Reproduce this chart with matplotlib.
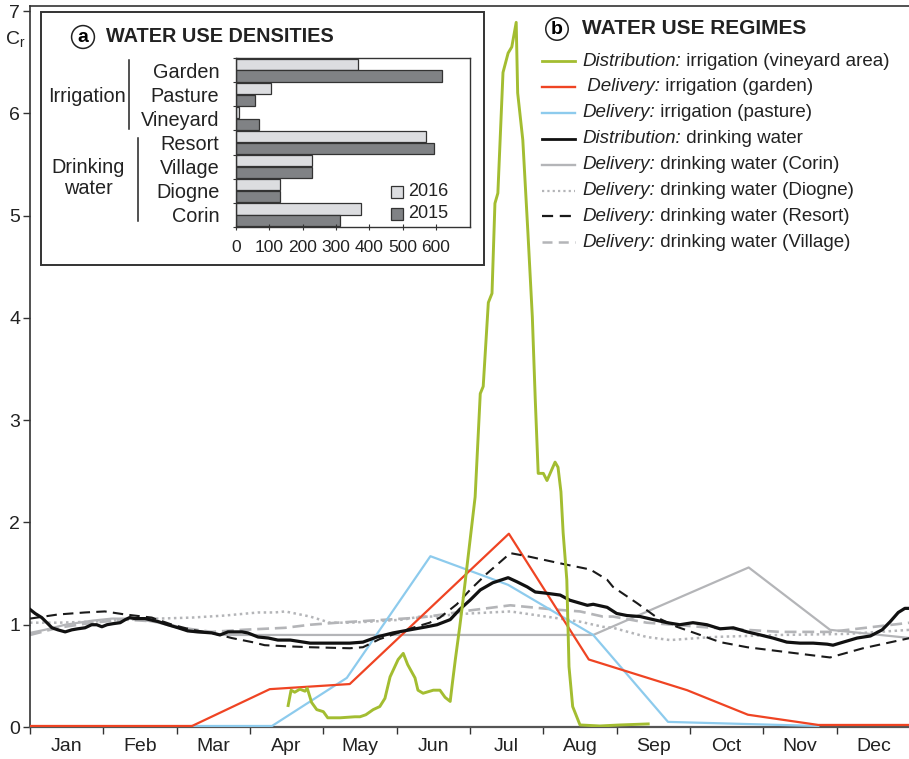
import numpy as np
import matplotlib.pyplot as plt
from matplotlib.lines import Line2D
from matplotlib.patches import Rectangle

plt.rcParams['font.family'] = ['Liberation Sans', 'DejaVu Sans']
plt.rcParams['mathtext.fontset'] = 'custom'
plt.rcParams['mathtext.rm'] = 'Liberation Sans'

months = ['Jan', 'Feb', 'Mar', 'Apr', 'May', 'Jun',
          'Jul', 'Aug', 'Sep', 'Oct', 'Nov', 'Dec']

# ---- (b) water use regimes, x in months since 1 Jan, y = Cr ----
vine_x = [3.52, 3.56, 3.61, 3.68, 3.75, 3.78, 3.84, 3.91, 4.00, 4.06, 4.13, 4.23,
          4.43, 4.50, 4.58, 4.68, 4.77, 4.84, 4.91, 5.02, 5.09, 5.15, 5.25, 5.29,
          5.36, 5.50, 5.59, 5.66, 5.73, 5.76, 5.80, 5.86, 5.90, 6.07, 6.14, 6.18,
          6.25, 6.30, 6.34, 6.38, 6.45, 6.52, 6.57, 6.63, 6.65, 6.72, 6.79, 6.85,
          6.89, 6.93, 7.00, 7.05, 7.16, 7.20, 7.24, 7.27, 7.32, 7.35, 7.40, 7.50,
          7.77, 8.05, 8.43]
vine_y = [0.21, 0.36, 0.34, 0.37, 0.35, 0.38, 0.24, 0.17, 0.15, 0.09, 0.09, 0.09,
          0.10, 0.10, 0.12, 0.17, 0.20, 0.28, 0.49, 0.66, 0.72, 0.61, 0.48, 0.36,
          0.33, 0.36, 0.36, 0.29, 0.25, 0.43, 0.66, 0.98, 1.21, 2.25, 3.26, 3.33,
          4.15, 4.24, 5.12, 5.22, 6.40, 6.59, 6.65, 6.89, 6.20, 5.74, 4.83, 4.01,
          3.20, 2.48, 2.48, 2.41, 2.59, 2.54, 2.30, 1.90, 1.44, 0.59, 0.20, 0.02,
          0.01, 0.02, 0.03]

garden_x = [0, 2.21, 3.27, 4.36, 6.53, 7.62, 8.96, 9.79, 10.75, 12.0]
garden_y = [0.01, 0.01, 0.37, 0.42, 1.89, 0.66, 0.36, 0.12, 0.02, 0.02]

pasture_x = [2.21, 3.30, 4.32, 5.46, 6.52, 7.68, 8.70, 10.75]
pasture_y = [0.01, 0.01, 0.48, 1.67, 1.39, 0.90, 0.05, 0.01]

drink_x = [0, 0.07, 0.16, 0.23, 0.30, 0.38, 0.48, 0.57, 0.65, 0.75, 0.84, 0.91,
           0.98, 1.05, 1.13, 1.23, 1.30, 1.36, 1.43, 1.57, 1.75, 1.88, 2.02, 2.15,
           2.29, 2.48, 2.59, 2.70, 2.89, 2.97, 3.11, 3.25, 3.38, 3.55, 3.82, 4.09,
           4.36, 4.54, 4.73, 4.95, 5.18, 5.41, 5.55, 5.73, 5.86, 6.00, 6.14, 6.31,
           6.52, 6.64, 6.78, 6.89, 7.02, 7.23, 7.36, 7.60, 7.68, 7.87, 8.00, 8.14,
           8.32, 8.50, 8.69, 8.86, 9.04, 9.23, 9.41, 9.59, 9.78, 9.96, 10.13, 10.32,
           10.50, 10.68, 10.87, 10.95, 11.09, 11.28, 11.46, 11.62, 11.73, 11.84,
           11.93, 12.0]
drink_y = [1.15, 1.11, 1.07, 1.02, 0.97, 0.95, 0.93, 0.95, 0.96, 0.97, 1.00, 1.00,
           0.98, 1.00, 1.01, 1.02, 1.05, 1.07, 1.06, 1.06, 1.03, 1.00, 0.97, 0.94,
           0.93, 0.92, 0.90, 0.93, 0.93, 0.92, 0.88, 0.87, 0.85, 0.85, 0.82, 0.82,
           0.82, 0.83, 0.88, 0.92, 0.95, 0.98, 1.00, 1.05, 1.15, 1.24, 1.34, 1.41,
           1.46, 1.42, 1.37, 1.32, 1.31, 1.29, 1.24, 1.19, 1.20, 1.17, 1.11, 1.09,
           1.08, 1.05, 1.02, 1.00, 1.02, 1.00, 0.96, 0.97, 0.93, 0.90, 0.87, 0.83,
           0.82, 0.82, 0.81, 0.80, 0.83, 0.87, 0.89, 0.95, 1.03, 1.12, 1.16, 1.16]

corin_x = [0, 0.20, 0.48, 0.85, 1.12, 1.43, 1.75, 2.02, 2.21, 2.48, 2.65, 7.68,
           9.80, 10.91, 12.0]
corin_y = [0.92, 0.95, 1.00, 1.04, 1.06, 1.06, 1.02, 0.97, 0.93, 0.92, 0.90, 0.90,
           1.56, 0.95, 0.87]

diogne_x = [0, 0.38, 0.85, 1.30, 1.75, 2.21, 2.66, 3.11, 3.34, 3.48, 3.82, 4.09,
            4.36, 4.64, 5.09, 5.32, 5.55, 5.77, 6.00, 6.55, 7.13, 7.50, 7.81, 7.95,
            8.41, 8.73, 9.31, 10.23, 11.14, 12.0]
diogne_y = [1.02, 1.02, 1.03, 1.05, 1.06, 1.07, 1.09, 1.12, 1.12, 1.13, 1.08, 1.02,
            1.02, 1.03, 1.05, 1.08, 1.08, 1.10, 1.11, 1.13, 1.07, 1.03, 0.98, 0.97,
            0.88, 0.85, 0.88, 0.90, 0.91, 0.95]

resort_x = [0, 0.38, 0.75, 1.02, 1.30, 1.66, 1.94, 2.21, 2.48, 2.75, 3.03, 3.20,
            3.48, 3.82, 4.36, 4.54, 4.77, 5.22, 5.45, 5.59, 5.82, 6.00, 6.23, 6.55,
            6.78, 7.23, 7.64, 7.87, 7.95, 8.28, 8.55, 8.82, 9.14, 9.41, 9.78, 10.23,
            10.68, 10.91, 11.36, 12.0]
resort_y = [1.06, 1.10, 1.12, 1.13, 1.10, 1.07, 1.00, 0.95, 0.92, 0.87, 0.83, 0.80,
            0.79, 0.78, 0.77, 0.78, 0.86, 0.97, 1.02, 1.07, 1.20, 1.34, 1.50, 1.70,
            1.67, 1.60, 1.54, 1.44, 1.37, 1.21, 1.07, 0.98, 0.90, 0.83, 0.78, 0.74,
            0.70, 0.68, 0.77, 0.87]

village_x = [0, 0.38, 0.85, 1.30, 1.75, 2.07, 2.48, 2.89, 3.48, 3.82, 4.19, 4.64,
             5.32, 5.63, 6.00, 6.55, 7.13, 7.50, 7.81, 7.95, 8.41, 9.31, 10.23,
             10.91, 12.0]
village_y = [0.90, 0.97, 1.02, 1.05, 1.03, 0.97, 0.93, 0.95, 0.97, 1.00, 1.02, 1.04,
             1.07, 1.10, 1.14, 1.19, 1.15, 1.13, 1.08, 1.08, 1.02, 0.97, 0.93,
             0.93, 1.02]

# ---- (a) water use densities ----
dens_cats = ['Garden', 'Pasture', 'Vineyard', 'Resort', 'Village', 'Diogne', 'Corin']
dens_2016 = [365, 105, 8, 569, 227, 131, 374]
dens_2015 = [617, 57, 70, 594, 227, 131, 313]

W, H = 909, 759
def fx(x):
    return x / W
def fy(y):
    return 1 - y / H

green = '#a3bd31'
red = '#ef4423'
blue = '#8dcbed'
lgray = '#b4b5b8'
dgray = '#333333'
txt = '#222222'

fig = plt.figure(figsize=(W / 100, H / 100), dpi=100)
ax = fig.add_axes([fx(30), fy(727), 880 / W, (727 - 6) / H])

ax.plot(corin_x, corin_y, color=lgray, lw=1.6, zorder=2)
ax.plot(diogne_x, diogne_y, color=lgray, lw=1.8, dashes=(1, 1.4), zorder=2)
ax.plot(village_x, village_y, color=lgray, lw=1.9, dashes=(4.5, 2.2), zorder=2)
ax.plot(pasture_x, pasture_y, color=blue, lw=1.6, zorder=3)
ax.plot(garden_x, garden_y, color=red, lw=1.6, zorder=3)
ax.plot(resort_x, resort_y, color='#1a1a1a', lw=1.5, dashes=(5, 3), zorder=4)
ax.plot(drink_x, drink_y, color='#111111', lw=2.3, zorder=5)
ax.plot(vine_x, vine_y, color=green, lw=2.1, zorder=6)

ax.set_xlim(0, 12)
ax.set_ylim(0, 7.05)
ax.set_yticks(range(8))
ax.set_xticks(range(12))
ax.set_xticklabels([])
ax.set_xticks(np.arange(0.5, 12, 1), minor=True)
ax.set_xticklabels(months, minor=True)
ax.tick_params(axis='x', which='major', length=5, width=1, color=dgray)
ax.tick_params(axis='x', which='minor', length=0, pad=8, labelsize=14, colors=txt)
ax.tick_params(axis='y', length=5, width=1, pad=2, labelsize=14, colors=txt)
ax.tick_params(axis='y', color=dgray)
for s in ax.spines.values():
    s.set_color(dgray)
    s.set_linewidth(1.2)
ax.spines['bottom'].set_color('#555555')
ax.spines['bottom'].set_linewidth(1.6)

fig.text(fx(5), fy(40), r'C$_\mathrm{r}$', fontsize=14, color=txt, va='center')

# ---- inset (a) ----
fig.add_artist(Rectangle((fx(41), fy(265)), (484 - 41) / W, (265 - 12) / H,
                         transform=fig.transFigure, facecolor='white',
                         edgecolor=dgray, lw=1.4, zorder=7))
fig.text(fx(83), fy(37), 'a', fontsize=14, fontweight='bold', ha='center', va='center',
         bbox=dict(boxstyle='circle,pad=0.15', fc='white', ec=txt, lw=1.1), zorder=8)
fig.text(fx(106), fy(37), 'WATER USE DENSITIES', fontsize=14.3, fontweight='bold',
         ha='left', va='center', color=txt, zorder=8)

bx = fig.add_axes([fx(236), fy(227), (470 - 236) / W, (227 - 58) / H], zorder=9)
yy = np.arange(len(dens_cats))
bx.barh(yy - 0.245, dens_2016, height=0.46, color='#dcdde0', edgecolor=dgray, lw=0.9)
bx.barh(yy + 0.245, dens_2015, height=0.46, color='#808285', edgecolor=dgray, lw=0.9)
bx.set_xlim(0, 702)
bx.set_ylim(len(dens_cats) - 0.5, -0.5)
bx.set_xticks(range(0, 700, 100))
bx.set_yticks(np.arange(-0.5, len(dens_cats), 1))
bx.set_yticklabels([])
bx.set_yticks(yy, minor=True)
bx.set_yticklabels(dens_cats, minor=True)
bx.tick_params(axis='y', which='major', direction='inout', length=5, color=dgray)
bx.tick_params(axis='y', which='minor', length=0, pad=12, labelsize=14.3, colors=txt)
bx.tick_params(axis='x', direction='inout', length=5, pad=7, labelsize=12.5, colors=txt)
bx.tick_params(axis='x', color=dgray)
for s in bx.spines.values():
    s.set_color(dgray)
    s.set_linewidth(1.0)

fig.text(fx(87), fy(97), 'Irrigation', fontsize=14.3, ha='center', va='center',
         color=txt, zorder=8)
fig.text(fx(88), fy(178), 'Drinking\nwater', fontsize=14.3, ha='center', va='center',
         linespacing=1.15, color=txt, zorder=8)
fig.add_artist(Line2D([fx(129), fx(129)], [fy(60), fy(129)], transform=fig.transFigure,
                      color=txt, lw=1.1, zorder=8))
fig.add_artist(Line2D([fx(138), fx(138)], [fy(138), fy(221)], transform=fig.transFigure,
                      color=txt, lw=1.1, zorder=8))

for yc, fc, lab in [(192, '#dcdde0', '2016'), (214, '#808285', '2015')]:
    fig.add_artist(Rectangle((fx(391), fy(yc + 6)), 12 / W, 12 / H, transform=fig.transFigure,
                             facecolor=fc, edgecolor=dgray, lw=0.9, zorder=10))
    fig.text(fx(408), fy(yc), lab, fontsize=13, ha='left', va='center',
             color=txt, zorder=10)

# ---- legend (b) ----
fig.text(fx(557), fy(29), 'b', fontsize=14, fontweight='bold', ha='center', va='center',
         bbox=dict(boxstyle='circle,pad=0.14', fc='white', ec=txt, lw=1.1), zorder=8)
fig.text(fx(582), fy(29), 'WATER USE REGIMES', fontsize=15, fontweight='bold',
         ha='left', va='center', color=txt, zorder=8)

leg_rows = [
    ('Distribution:', ' irrigation (vineyard area)', dict(color=green, lw=2.0)),
    (' Delivery:', ' irrigation (garden)', dict(color=red, lw=1.7)),
    ('Delivery:', ' irrigation (pasture)', dict(color=blue, lw=1.7)),
    ('Distribution:', ' drinking water', dict(color='#111111', lw=2.0)),
    ('Delivery:', ' drinking water (Corin)', dict(color=lgray, lw=1.7)),
    ('Delivery:', ' drinking water (Diogne)', dict(color=lgray, lw=1.6, dashes=(1, 1.4))),
    ('Delivery:', ' drinking water (Resort)', dict(color='#1a1a1a', lw=1.6, dashes=(5, 3))),
    ('Delivery:', ' drinking water (Village)', dict(color=lgray, lw=1.8, dashes=(4, 2.5))),
]
for i, (it, rest, style) in enumerate(leg_rows):
    yc = 61 + 25.9 * i
    fig.add_artist(Line2D([fx(542), fx(575)], [fy(yc), fy(yc)], transform=fig.transFigure,
                          zorder=8, **style))
    t = fig.text(fx(582), fy(yc), it, fontsize=13.5, style='italic', ha='left',
                 va='center', color=txt, zorder=8)
    ax.annotate(rest, xy=(1, 0), xycoords=t, va='bottom', ha='left', fontsize=13.5,
                color=txt, annotation_clip=False, zorder=8)

fig.savefig('out.png', dpi=100)
